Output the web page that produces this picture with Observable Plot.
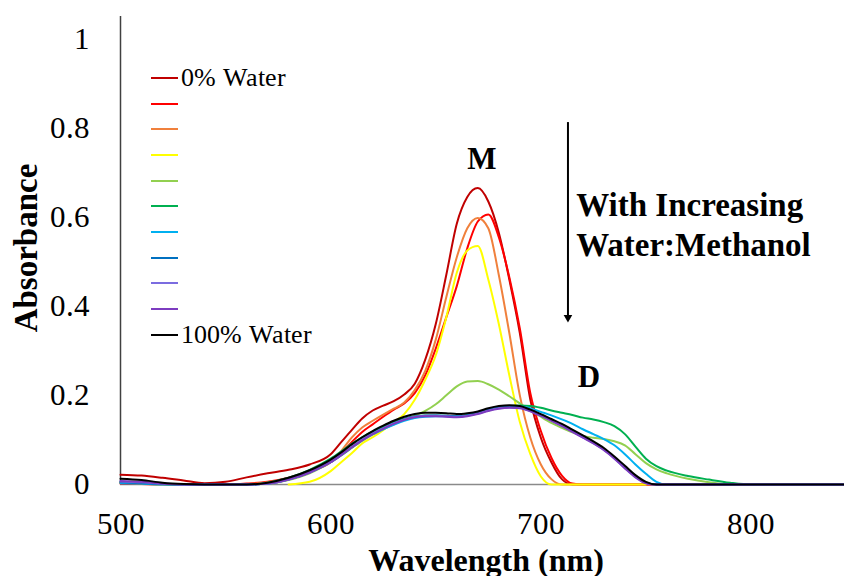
<!DOCTYPE html>
<html><head><meta charset="utf-8">
<script src="https://cdn.jsdelivr.net/npm/d3@7"></script>
<script src="https://cdn.jsdelivr.net/npm/@observablehq/plot@0.6"></script>
<style>
@font-face{font-family:"SerifReg";src:local("Liberation Serif"),local("LiberationSerif"),local("Liberation Serif Regular"),local("LiberationSerif-Regular");font-weight:400;font-style:normal;}
body{margin:0;background:#fff;}
#wrap{position:relative;width:844px;height:576px;overflow:hidden;background:#fff;}
#legend{position:absolute;left:151px;top:65px;z-index:2;font-family:"SerifReg",'DejaVu Serif';font-weight:400;font-size:26px;color:#000;}
.row{display:flex;align-items:center;height:25.7px;line-height:25.7px;white-space:nowrap;}
.sw{width:27px;height:2px;margin-right:3px;flex:none;}
#ylab{position:absolute;left:26px;top:248px;z-index:2;transform:translate(-50%,-50%) rotate(-90deg);font-family:'Liberation Serif';font-weight:bold;font-size:33px;line-height:1;white-space:nowrap;color:#000;}
</style></head><body><div id="wrap"><div id="legend"></div><div id="ylab"></div></div>
<script>
// Wavelength grid (nm)
const wavelength = [500,510,520,530,540,550,560,570,580,590,600,605,610,615,620,625,630,635,640,645,650,655,660,665,670,675,680,685,690,695,700,705,710,715,720,725,730,735,740,745,750,755,760,770,780,790,800,845];

// Absorbance series (0% water -> 100% water)
const darkRed = [.022,.020,.015,.009,.003,.006,.016,.025,.033,.045, .068,.095,.122,.148,.166,.177,.187,.202,.226,.280,.360,.470,.585,.645,.665,.635,.565,.460,.340,.190,.105,.050,.012,0,0,0,0,0,0,0,0,0,0, 0,0,0,0,0];
const red = [.002,.001,0,0,0,0,.002,.006,.015,.030, .050,.070,.095,.118,.135,.152,.168,.182,.205,.245,.305,.375,.445,.530,.590,.606,.555,.465,.350,.205,.120,.060,.020,.002,0,0,0,0,0,0,0,0,0, 0,0,0,0,0];
const orange = [.004,.003,.001,0,0,0,.001,.005,.014,.030, .050,.075,.105,.128,.143,.157,.170,.184,.212,.255,.325,.420,.510,.575,.598,.575,.470,.340,.200,.105,.045,.012,0,0,0,0,0,0,0,0,0,0,0, 0,0,0,0,0];
const yellow = [null,null,null,null,null,null,null,null,0,.006, .030,.050,.070,.092,.106,.122,.140,.158,.190,.235,.290,.375,.475,.525,.535,.460,.360,.245,.140,.068,.018,0,0,0,0,0,0,0,0,0,0,null,null, null,null,null,null,null];
const lightGreen = [.004,.002,0,0,0,0,0,.002,.010,.025, .050,.065,.082,.098,.112,.124,.135,.145,.154,.165,.180,.200,.220,.231,.232,.225,.213,.198,.182,.167,.152,.138,.127,.117,.109,.105,.102,.097,.088,.068,.048,.034,.025, .013,.005,0,0,0];
const green = [.006,.004,.001,0,0,0,0,.004,.015,.033, .058,.074,.091,.106,.119,.130,.140,.148,.153,.155,.155,.154,.153,.156,.162,.169,.174,.176,.177,.176,.172,.166,.161,.156,.150,.146,.140,.131,.113,.085,.058,.041,.031, .019,.011,.004,0,0];
const lightBlue = [.003,.002,0,0,0,0,0,.002,.012,.028, .052,.067,.084,.100,.113,.124,.134,.143,.149,.152,.153,.153,.152,.155,.161,.168,.173,.175,.175,.171,.163,.155,.146,.136,.124,.113,.102,.088,.068,.045,.024,.006,0, 0,0,0,0,0];
const blue = [.005,.003,.001,0,0,0,0,.002,.011,.027, .050,.066,.083,.100,.114,.126,.137,.146,.152,.154,.155,.154,.153,.155,.160,.167,.172,.174,.173,.166,.156,.145,.133,.120,.107,.094,.079,.060,.038,.018,.004,0,0, 0,0,0,0,0];
const lavender = [.007,.005,.002,0,0,0,0,.002,.011,.027, .051,.067,.084,.100,.114,.126,.137,.146,.152,.154,.154,.153,.152,.154,.159,.166,.171,.173,.172,.165,.155,.144,.132,.119,.106,.093,.078,.059,.037,.017,.003,0,0, 0,0,0,0,0];
const purple = [.008,.006,.002,0,0,0,0,.002,.011,.027, .050,.066,.083,.099,.113,.125,.136,.145,.151,.153,.153,.152,.151,.153,.158,.165,.170,.172,.171,.164,.154,.143,.131,.118,.105,.092,.077,.058,.036,.016,.003,0,0, 0,0,0,0,0];
const black = [.013,.010,.004,.001,0,0,0,.004,.015,.032, .056,.072,.090,.106,.120,.132,.143,.152,.158,.161,.161,.160,.158,.160,.164,.171,.176,.178,.176,.168,.158,.147,.136,.123,.110,.097,.082,.063,.042,.021,.006,0,0, 0,0,0,0,0];

const seriesNames = ["0% Water","","","","","","","","","","100% Water"];
const seriesColors = ["#C00000","#FF0000","#F0803C","#FFFF00","#92D050","#00B050","#00B0F0","#0070C0","#7B6CE0","#7D3CC0","#000000"];
const seriesValues = [darkRed, red, orange, yellow, lightGreen, green, lightBlue, blue, lavender, purple, black];

const xTicks = [500, 600, 700, 800];
const yTicks = [0, 0.2, 0.4, 0.6, 0.8, 1];
const yTitle = "Absorbance";
const xTitle = "Wavelength (nm)";

// Annotations (data coordinates)
const peakLabels = [{x: 671.9, y: 0.731, label: "M"}, {x: 722.9, y: 0.24, label: "D"}];
const trendLabels = [{x: 716.8, y: 0.603, label: "With Increasing"}, {x: 716.8, y: 0.513, label: "Water:Methanol"}];
const trendArrow = [{x: 712.9, y1: 0.812, y2: 0.3745}];

const rows = [];
seriesValues.forEach((vals, i) => vals.forEach((v, j) => {
  if (v != null) rows.push({wl: wavelength[j], a: v, s: i});
}));

const serifReg = "SerifReg,'DejaVu Serif'";
const serifBold = "'Liberation Serif'";

const chart = Plot.plot({
  width: 844, height: 576,
  marginLeft: 120, marginRight: 1, marginTop: 16, marginBottom: 92,
  style: {fontFamily: serifReg, fontSize: "31px", color: "#000", background: "#fff", overflow: "visible"},
  x: {domain: [500, 844], ticks: xTicks, tickFormat: d => String(d), tickSize: 0, tickPadding: 27, label: null},
  y: {domain: [0, 1.05], ticks: yTicks, tickFormat: d => String(d), tickSize: 0, tickPadding: 31, label: null},
  marks: [
    Plot.ruleY([0], {stroke: "#8a8a8a", strokeWidth: 1.5}),
    Plot.ruleX([500], {stroke: "#404040", strokeWidth: 1.5}),
    ...seriesValues.map((_, i) => Plot.line(rows.filter(d => d.s === i), {
      x: "wl", y: "a", stroke: seriesColors[i], strokeWidth: 2, curve: "monotone-x"
    })),
    Plot.ruleX(trendArrow, {x: "x", y1: "y1", y2: "y2", stroke: "#000", strokeWidth: 2}),
    Plot.dot(trendArrow, {x: "x", y: "y2", symbol: "triangle", r: 3.2, fill: "#000", stroke: "none", rotate: 180}),
    Plot.text(peakLabels, {x: "x", y: "y", text: "label", fontFamily: serifBold, fontSize: 31, fontWeight: "bold", lineAnchor: "middle", fill: "#000"}),
    Plot.text(trendLabels, {x: "x", y: "y", text: "label", fontFamily: serifBold, fontSize: 33, fontWeight: "bold", textAnchor: "start", lineAnchor: "bottom", fill: "#000"}),
    Plot.text([xTitle], {text: d => d, frameAnchor: "bottom", lineAnchor: "bottom", dx: 4, dy: 86, fontFamily: serifBold, fontSize: 32, fontWeight: "bold", fill: "#000"})
  ]
});

const wrap = document.getElementById("wrap");
wrap.insertBefore(chart, wrap.firstChild);
document.getElementById("ylab").textContent = yTitle;

const legend = document.getElementById("legend");
seriesNames.forEach((name, i) => {
  const row = document.createElement("div");
  row.className = "row";
  const sw = document.createElement("div");
  sw.className = "sw";
  sw.style.background = seriesColors[i];
  const t = document.createElement("span");
  t.textContent = name;
  row.appendChild(sw);
  row.appendChild(t);
  legend.appendChild(row);
});
</script></body></html>
